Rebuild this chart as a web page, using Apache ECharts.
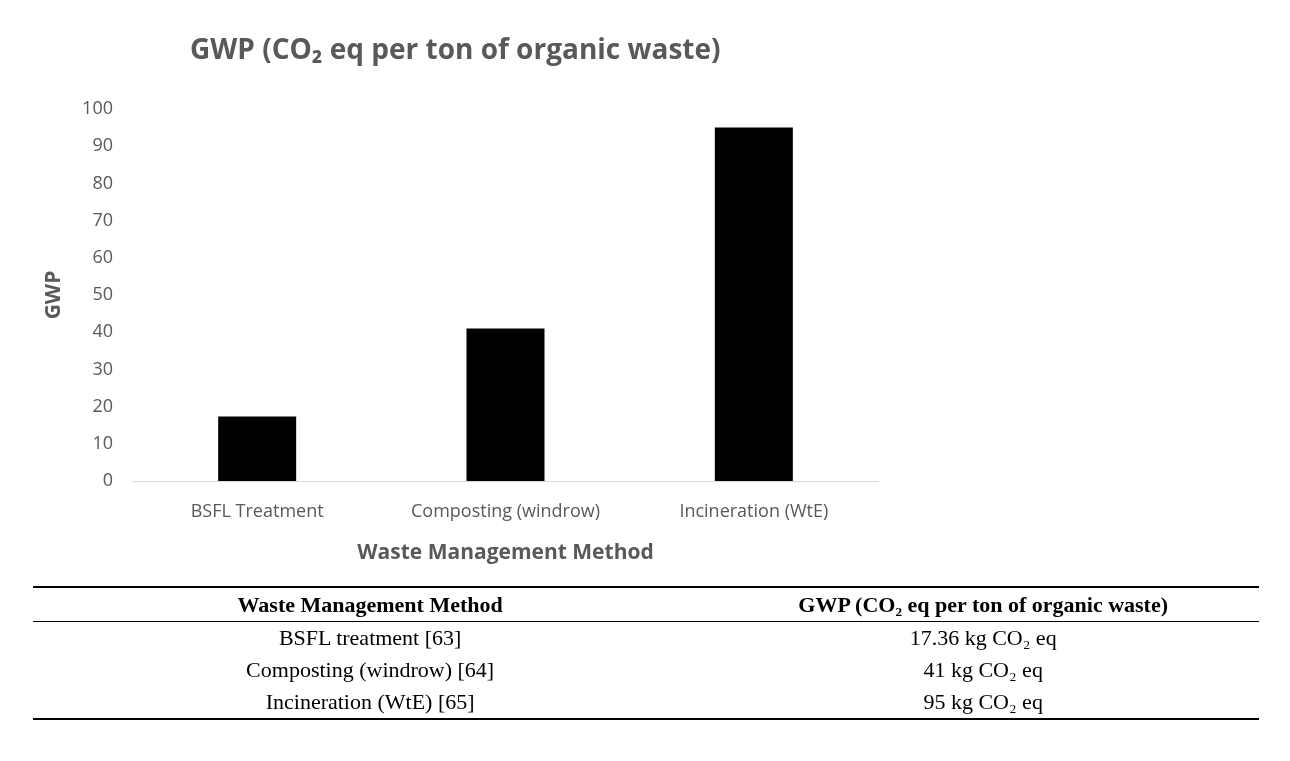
<!DOCTYPE html>
<html><head><meta charset="utf-8">
<script src="https://cdn.jsdelivr.net/npm/echarts@6/dist/echarts.min.js"></script>
<style>
body{margin:0;background:#fff;}
#chart{position:absolute;left:0;top:0;width:1290px;height:761px;}
#tbl{position:absolute;left:33px;top:586px;width:1226px;border-collapse:collapse;font-family:"Liberation Serif","DejaVu Serif",serif;font-size:22px;color:#000;}
#tbl th{font-weight:bold;height:33px;border-top:2px solid #000;border-bottom:1.5px solid #000;padding:0;}
#tbl td{height:32px;padding:0;text-align:center;}
#tbl tr:last-child td{border-bottom:2px solid #000;}
</style></head>
<body>
<div id="chart"></div>
<table id="tbl">
<thead><tr><th style="width:55%">Waste Management Method</th><th>GWP (CO₂ eq per ton of organic waste)</th></tr></thead>
<tbody id="tb"></tbody>
</table>
<script>
const categories = ['BSFL Treatment', 'Composting (windrow)', 'Incineration (WtE)'];
const gwpValues = [17.36, 41, 95];
const tableMethods = ['BSFL treatment [63]', 'Composting (windrow) [64]', 'Incineration (WtE) [65]'];
const tableValues = ['17.36 kg CO₂ eq', '41 kg CO₂ eq', '95 kg CO₂ eq'];

const tb = document.getElementById('tb');
tableMethods.forEach((m, i) => {
  const tr = document.createElement('tr');
  tr.innerHTML = '<td>' + m + '</td><td>' + tableValues[i] + '</td>';
  tb.appendChild(tr);
});

const chart = echarts.init(document.getElementById('chart'));
chart.setOption({
  animation: false,
  title: {
    text: 'GWP (CO₂ eq per ton of organic waste)',
    left: 185, top: 32,
    textStyle: { fontFamily: 'Open Sans', fontSize: 28, fontWeight: 'bold', color: '#595959' }
  },
  grid: { left: 133, right: 412, top: 109, bottom: 280 },
  xAxis: {
    type: 'category', data: categories,
    name: 'Waste Management Method', nameLocation: 'middle', nameGap: 62,
    nameTextStyle: { fontFamily: 'Open Sans', fontSize: 21, fontWeight: 'bold', color: '#595959' },
    axisLine: { lineStyle: { color: '#d9d9d9' } },
    axisTick: { show: false },
    axisLabel: { fontFamily: 'Open Sans', fontSize: 18, color: '#595959', margin: 22 }
  },
  yAxis: {
    type: 'value', min: 0, max: 100, interval: 10,
    name: 'GWP', nameLocation: 'middle', nameGap: 68, nameRotate: 90,
    nameTextStyle: { fontFamily: 'Open Sans', fontSize: 21, fontWeight: 'bold', color: '#595959' },
    splitLine: { show: false },
    axisLine: { show: false },
    axisLabel: { fontFamily: 'Open Sans', fontSize: 18, color: '#595959', margin: 20 }
  },
  series: [{ type: 'bar', data: gwpValues, barWidth: 78, itemStyle: { color: '#000' } }]
});
</script>
</body></html>
